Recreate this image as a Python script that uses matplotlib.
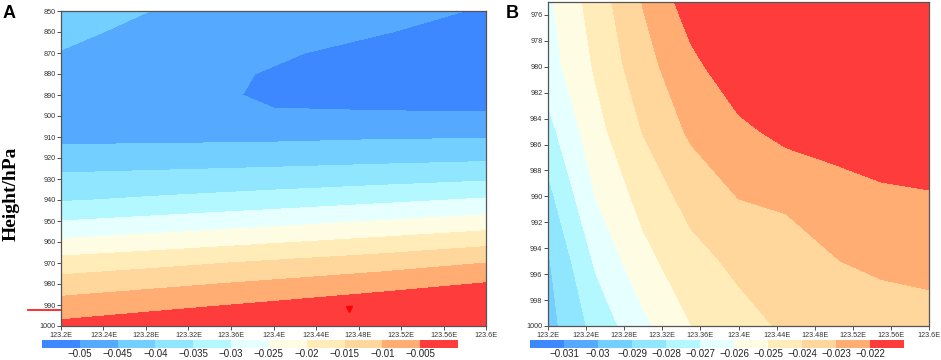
import numpy as np
import matplotlib
matplotlib.use('Agg')
import matplotlib.pyplot as plt
import matplotlib.colorbar as mcolorbar
import matplotlib.transforms as mtransforms
from matplotlib.colors import ListedColormap, BoundaryNorm

plt.rcParams['font.family'] = ['Liberation Sans', 'DejaVu Sans']

# 11 shading colours shared by both panels
fill_colors = ['#3d87ff', '#55aaff', '#73cfff', '#91e6ff', '#b4f8ff', '#e6ffff',
               '#fffce4', '#ffecb9', '#ffd69b', '#ffad73', '#ff3c3c']

# ---- panel A: 850-1000 hPa section
a_lon = [123.2, 123.3, 123.4, 123.5, 123.6]
a_pres = [850, 860, 870, 880, 890, 900, 910, 920, 930, 940, 950, 960, 970, 980, 990, 1000]
a_field = [
    [-0.0425, -0.0455, -0.0465, -0.0480, -0.0505],
    [-0.0438, -0.0468, -0.0475, -0.0498, -0.0515],
    [-0.0452, -0.0478, -0.0495, -0.0512, -0.0522],
    [-0.0465, -0.0486, -0.0503, -0.0520, -0.0525],
    [-0.0472, -0.0488, -0.0505, -0.0515, -0.0520],
    [-0.0468, -0.0482, -0.0497, -0.0495, -0.0495],
    [-0.0463, -0.0462, -0.0460, -0.0455, -0.0453],
    [-0.0427, -0.0423, -0.0419, -0.0414, -0.0409],
    [-0.0389, -0.0383, -0.0376, -0.0367, -0.0356],
    [-0.0354, -0.0341, -0.0327, -0.0311, -0.0294],
    [-0.0300, -0.0284, -0.0267, -0.0249, -0.0231],
    [-0.0241, -0.0224, -0.0205, -0.0186, -0.0164],
    [-0.0180, -0.0161, -0.0142, -0.0123, -0.0100],
    [-0.0127, -0.0109, -0.0090, -0.0070, -0.0047],
    [-0.0081, -0.0062, -0.0042, -0.0020, 0.0005],
    [-0.0037, -0.0016, 0.0007, 0.0030, 0.0058],
]
a_levels = [-0.06, -0.05, -0.045, -0.04, -0.035, -0.03, -0.025, -0.02,
            -0.015, -0.01, -0.005, 0.01]
a_cbar_labels = ['\u22120.05', '\u22120.045', '\u22120.04', '\u22120.035', '\u22120.03',
                 '\u22120.025', '\u22120.02', '\u22120.015', '\u22120.01', '\u22120.005']
a_yticks = [850, 860, 870, 880, 890, 900, 910, 920, 930, 940, 950, 960, 970, 980, 990, 1000]
mark_lon, mark_pres = 123.471, 992.0
line_pres = 992.4

# ---- panel B: 975-1000 hPa close-up
b_lon = [123.2, 123.25, 123.3, 123.35, 123.4, 123.45, 123.5, 123.55, 123.6]
b_pres = [975, 980, 985, 990, 995, 1000]
b_field = [
    [-0.02619, -0.02454, -0.02295, -0.02150, -0.02100, -0.02050, -0.02000, -0.01970, -0.01950],
    [-0.02646, -0.02488, -0.02337, -0.02228, -0.02133, -0.02080, -0.02040, -0.02010, -0.01990],
    [-0.02735, -0.02535, -0.02396, -0.02284, -0.02224, -0.02172, -0.02150, -0.02130, -0.02110],
    [-0.02830, -0.02598, -0.02464, -0.02365, -0.02297, -0.02285, -0.02250, -0.02220, -0.02210],
    [-0.02911, -0.02685, -0.02532, -0.02435, -0.02378, -0.02341, -0.02305, -0.02272, -0.02245],
    [-0.02937, -0.02767, -0.02624, -0.02502, -0.02436, -0.02386, -0.02375, -0.02372, -0.02370],
]
b_levels = [-0.04, -0.031, -0.03, -0.029, -0.028, -0.027, -0.026, -0.025,
            -0.024, -0.023, -0.022, -0.01]
b_cbar_labels = ['\u22120.031', '\u22120.03', '\u22120.029', '\u22120.028', '\u22120.027',
                 '\u22120.026', '\u22120.025', '\u22120.024', '\u22120.023', '\u22120.022']
b_yticks = [976, 978, 980, 982, 984, 986, 988, 990, 992, 994, 996, 998, 1000]

x_ticks = [123.2, 123.24, 123.28, 123.32, 123.36, 123.4, 123.44, 123.48, 123.52, 123.56, 123.6]
x_labels = ['123.2E', '123.24E', '123.28E', '123.32E', '123.36E', '123.4E',
            '123.44E', '123.48E', '123.52E', '123.56E', '123.6E']

TXT = '#333333'
W, H = 941, 360


def px_axes(fig, x0, y0, x1, y1):
    # pixel box (top-left origin) -> figure axes
    return fig.add_axes([x0 / W, 1 - y1 / H, (x1 - x0) / W, (y1 - y0) / H])


def style_section(ax, ylim, yticks):
    ax.set_xlim(123.2, 123.6)
    ax.set_ylim(ylim)
    ax.set_xticks(x_ticks)
    ax.set_xticklabels(x_labels)
    ax.set_yticks(yticks)
    ax.tick_params(direction='out', length=3, width=0.6, pad=1, labelsize=5.2,
                   colors=TXT)
    for s in ax.spines.values():
        s.set_color('#555555')
        s.set_linewidth(0.9)


def draw_cbar(fig, box, labels):
    cax = px_axes(fig, *box)
    cmap = ListedColormap(fill_colors)
    norm = BoundaryNorm(np.arange(12), 11)
    cb = mcolorbar.ColorbarBase(cax, cmap=cmap, norm=norm, orientation='horizontal',
                                ticks=np.arange(1, 11))
    cb.set_ticklabels(labels)
    cb.outline.set_visible(False)
    cax.minorticks_off()
    cax.tick_params(which='both', length=0, labelsize=7, pad=0.8, colors='#222222')


fig = plt.figure(figsize=(W / 100, H / 100), dpi=100)

# panel A
axA = px_axes(fig, 61, 11, 486, 326)
axA.contourf(a_lon, a_pres, np.array(a_field), levels=a_levels, colors=fill_colors)
style_section(axA, (1000, 850), a_yticks)
axA.plot([mark_lon], [mark_pres], marker='v', color='#ff0000', markersize=5,
         linestyle='none')
trans = mtransforms.blended_transform_factory(axA.transAxes, axA.transData)
axA.plot([-0.078, 0.0], [line_pres, line_pres], color='#ff2020', linewidth=1.3,
         transform=trans, clip_on=False)
draw_cbar(fig, (42, 340, 458, 348), a_cbar_labels)

# panel B
axB = px_axes(fig, 548, 2, 929, 326)
axB.contourf(b_lon, b_pres, np.array(b_field), levels=b_levels, colors=fill_colors)
style_section(axB, (1000, 975), b_yticks)
draw_cbar(fig, (530, 340, 904, 348), b_cbar_labels)

fig.text(3 / W, 1 - 14 / H, 'A', fontsize=13, fontweight='bold', va='center', ha='left')
fig.text(506 / W, 1 - 14 / H, 'B', fontsize=13, fontweight='bold', va='center', ha='left')
fig.text(11 / W, 1 - 194 / H, 'Height/hPa', rotation=90, fontsize=14, fontweight='bold',
         family=['Liberation Serif', 'DejaVu Serif'], va='center', ha='center')

fig.savefig('out.png', dpi=100)
